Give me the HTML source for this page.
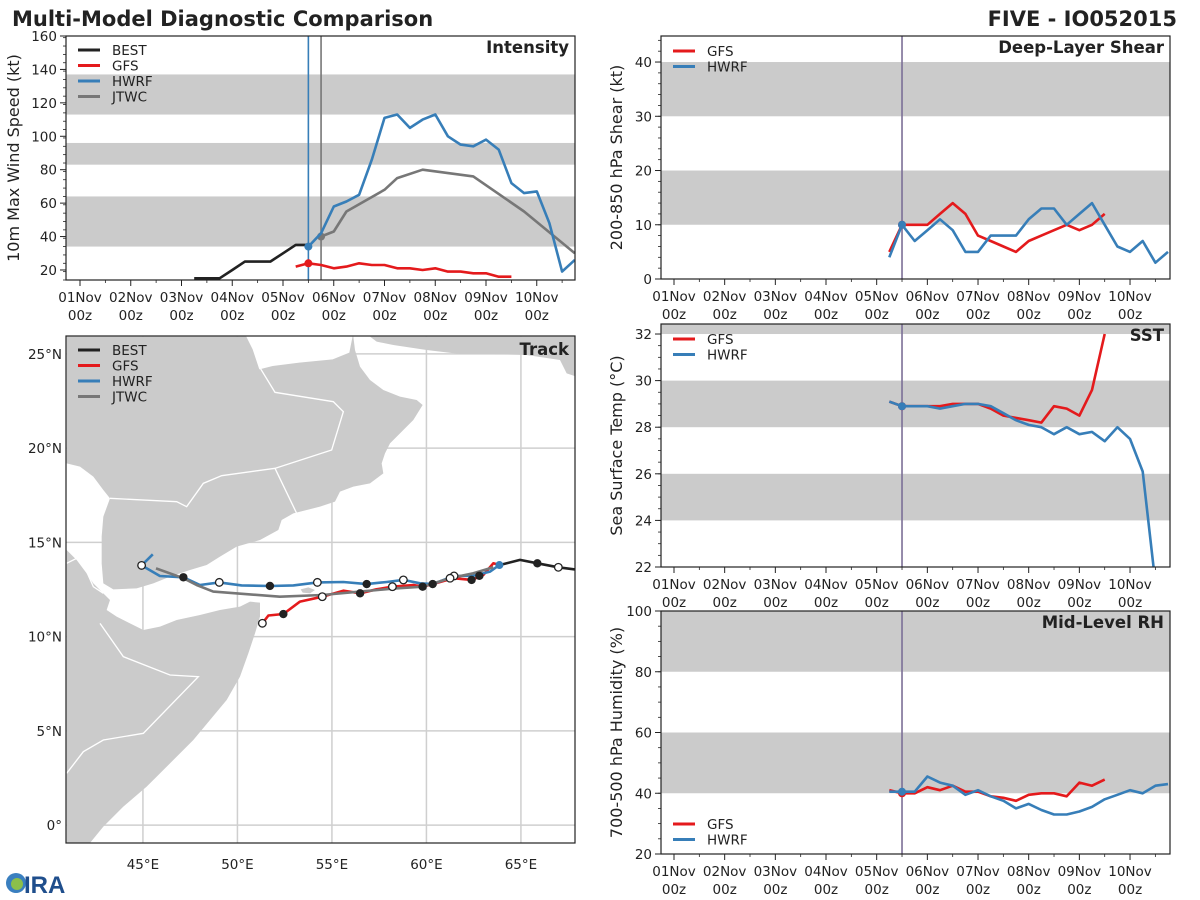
<!DOCTYPE html>
<html><head><meta charset="utf-8"><style>
html,body{margin:0;padding:0;background:#fff;}
svg{display:block;font-family:"DejaVu Sans","Liberation Sans",sans-serif;}
</style></head><body>
<svg id="fig" width="1200" height="900" viewBox="0 0 1200 900" xmlns="http://www.w3.org/2000/svg">
<defs>
<clipPath id="cInt"><rect x="66" y="36" width="509" height="244"/></clipPath>
<clipPath id="cTrk"><rect x="66" y="336" width="509" height="507"/></clipPath>
<clipPath id="cShr"><rect x="661" y="36" width="509" height="243"/></clipPath>
<clipPath id="cSst"><rect x="661" y="324" width="509" height="243"/></clipPath>
<clipPath id="cRh"><rect x="661" y="611" width="509" height="243"/></clipPath>
</defs>
<text x="12" y="26" font-size="21" font-weight="bold" fill="#222">Multi-Model Diagnostic Comparison</text>
<text x="1177" y="26" font-size="21" font-weight="bold" fill="#222" text-anchor="end">FIVE - IO052015</text>

<g id="trackMap" clip-path="url(#cTrk)">
<rect x="66" y="336" width="509" height="507" fill="#fff"/>
<g id="gridTrk"></g>
<g transform="translate(60,330) scale(0.33333)" fill="#cbcbcb" stroke="none">
<polygon points="20,20 880,20 885,60 900,110 930,150 970,180 1020,200 1070,210 1088,225 1060,270 1020,310 990,340 975,370 965,400 970,430 930,460 880,470 840,485 825,515 780,530 700,550 665,570 655,600 600,630 530,650 480,680 440,705 390,720 330,740 280,760 230,775 160,778 130,760 125,700 125,620 130,560 150,505 130,480 100,440 60,410 20,400"/>
<polygon fill="#fff" points="558,18 578,58 598,118 638,108 718,98 818,88 868,68 878,18"/>
<polygon points="930,20 1550,20 1550,140 1520,130 1500,90 1400,75 1300,72 1200,72 1100,60 1000,45 950,35"/>
<polygon points="20,660 50,690 80,730 100,760 130,790 150,810 140,840 170,860 210,880 250,900 300,890 350,870 420,855 480,840 540,830 570,815 600,818 600,860 585,910 565,970 540,1040 500,1110 450,1170 400,1230 330,1300 260,1370 190,1430 130,1490 85,1545 20,1545"/>
<polygon points="722,778 745,772 765,780 750,790 728,788"/>
<g fill="none" stroke="#fff" stroke-width="4">
<polyline points="598,110 645,187 820,215 850,245 815,360 645,415 485,437 430,460 380,530 350,515 150,505"/>
<polyline points="645,415 710,550"/>
<polyline points="20,700 60,680 100,770 130,790"/>
<polyline points="120,880 190,980 330,1035 415,1040 250,1210 130,1230 70,1265 20,1330"/>
</g>
</g>
</g>
<g id="plots"></g>
<g>
<circle cx="16" cy="883" r="10" fill="#3a7fbf"/>
<circle cx="17" cy="884" r="6" fill="#8bbf4a"/>
<text x="24" y="893" font-size="24" font-weight="bold" fill="#1f4e8c" font-family="Liberation Sans, sans-serif">IRA</text>
</g>
</svg>
<script>
const intBestDays=[2.25,2.5,2.75,3.0,3.25,3.5,3.75,4.0,4.25,4.5];
const intBestVals=[15,15,15,20,25,25,25,30,35,35];
const intGfsDays=[4.25,4.5,4.75,5.0,5.25,5.5,5.75,6.0,6.25,6.5,6.75,7.0,7.25,7.5,7.75,8.0,8.25,8.5];
const intGfsVals=[22,24,23,21,22,24,23,23,21,21,20,21,19,19,18,18,16,16];
const intHwrfDays=[4.5,4.75,5.0,5.25,5.5,5.75,6.0,6.25,6.5,6.75,7.0,7.25,7.5,7.75,8.0,8.25,8.5,8.75,9.0,9.25,9.5,9.75];
const intHwrfVals=[34,42,58,61,65,86,111,113,105,110,113,100,95,94,98,92,72,66,67,48,19,26];
const intJtwcDays=[4.75,5.0,5.25,6.0,6.25,6.75,7.75,8.75,9.75];
const intJtwcVals=[40,43,55,68,75,80,76,55,30];
const intTicks=[20,40,60,80,100,120,140,160];

const shrDays=[4.25,4.5,4.75,5.0,5.25,5.5,5.75,6.0,6.25,6.5,6.75,7.0,7.25,7.5,7.75,8.0,8.25,8.5];
const shrGfs=[5,10,10,10,12,14,12,8,7,6,5,7,8,9,10,9,10,12];
const hwrfDays=[4.25,4.5,4.75,5.0,5.25,5.5,5.75,6.0,6.25,6.5,6.75,7.0,7.25,7.5,7.75,8.0,8.25,8.5,8.75,9.0,9.25,9.5,9.75];
const shrHwrf=[4,10,7,9,11,9,5,5,8,8,8,11,13,13,10,12,14,10,6,5,7,3,5];
const shrTicks=[0,10,20,30,40];

const sstGfs=[29.1,28.9,28.9,28.9,28.9,29.0,29.0,29.0,28.8,28.5,28.4,28.3,28.2,28.9,28.8,28.5,29.6,32.0];
const sstHwrfDays=[4.25,4.5,4.75,5.0,5.25,5.5,5.75,6.0,6.25,6.5,6.75,7.0,7.25,7.5,7.75,8.0,8.25,8.5,8.75,9.0,9.25,9.5];
const sstHwrf=[29.1,28.9,28.9,28.9,28.8,28.9,29.0,29.0,28.9,28.6,28.3,28.1,28.0,27.7,28.0,27.7,27.8,27.4,28.0,27.5,26.1,21.3];
const sstTicks=[22,24,26,28,30,32];

const rhGfs=[41,40,40,42,41,42.5,40.5,40.5,39,38.5,37.5,39.5,40,40,39,43.5,42.5,44.5];
const rhHwrf=[40.5,40.5,40.5,45.5,43.5,42.5,39.5,41,39,37.5,35,36.5,34.5,33,33,34,35.5,38,39.5,41,40,42.5,43];
const rhTicks=[20,40,60,80,100];

const dayLabels=["01Nov","02Nov","03Nov","04Nov","05Nov","06Nov","07Nov","08Nov","09Nov","10Nov"];

const trkBestLon=[63.89,64.95,65.87,66.98,67.86,68.6];
const trkBestLat=[13.80,14.07,13.89,13.68,13.57,13.45];
const trkHwrfLon=[63.86,63.37,62.48,61.46,60.33,59.66,58.78,57.90,56.84,55.60,54.23,52.96,51.72,50.22,49.04,48.02,47.14,45.90,44.93,45.52];
const trkHwrfLat=[13.80,13.45,13.23,13.22,12.79,12.83,13.01,12.90,12.79,12.90,12.88,12.72,12.69,12.72,12.88,12.74,13.15,13.22,13.78,14.37];
const trkGfsLon=[63.86,63.54,63.01,62.39,61.42,60.33,59.80,59.31,58.20,57.36,56.49,55.60,54.49,53.31,52.43,51.64,51.32];
const trkGfsLat=[13.80,13.89,13.27,13.01,13.10,12.79,12.65,12.74,12.65,12.51,12.30,12.44,12.12,11.86,11.20,11.12,10.71];
const trkJtwcLon=[63.54,62.48,61.25,59.80,58.25,56.49,54.49,52.25,48.72,47.84,47.14,45.69];
const trkJtwcLat=[13.68,13.36,13.10,12.65,12.55,12.39,12.21,12.12,12.39,12.74,13.10,13.62];
const mkOpenLon=[66.98,61.46,58.78,54.23,49.04,44.93,58.20,54.49,51.32,61.25];
const mkOpenLat=[13.68,13.22,13.01,12.88,12.88,13.78,12.65,12.12,10.71,13.10];
const mkFillLon=[65.87,62.80,56.84,51.72,47.14,62.39,59.80,56.49,52.43,60.33];
const mkFillLat=[13.89,13.23,12.79,12.69,13.15,13.01,12.65,12.30,11.20,12.79];
const lonTicks=[45,50,55,60,65];
const latTicks=[0,5,10,15,20,25];

const NS="http://www.w3.org/2000/svg";
const plots=document.getElementById('plots');
function mk(tag,attrs,parent){const e=document.createElementNS(NS,tag);for(const k in attrs)e.setAttribute(k,attrs[k]);(parent||plots).appendChild(e);return e;}
function pathD(xs,ys,fx,fy){return xs.map((v,i)=>(i?'L':'M')+fx(v).toFixed(1)+','+fy(ys[i]).toFixed(1)).join(' ');}
const C={best:'#222222',gfs:'#e41a1c',hwrf:'#377eb8',jtwc:'#777777'};

function panel(o){
  const g=mk('g',{});
  
  
  const fx=d=>o.x0+d*o.dx;
  const fy=v=>o.top+(o.ymax-v)/(o.ymax-o.ymin)*(o.bottom-o.top);
  o.bands.forEach(b=>{
    const r=mk('rect',{x:o.left,y:fy(Math.min(b[1],o.ymax)),width:o.right-o.left,height:fy(b[0])-fy(Math.min(b[1],o.ymax)),fill:'#cbcbcb'},g);
    
    
  });
  o.ticks.forEach(t=>{
    mk('line',{x1:o.left-6,x2:o.left,y1:fy(t),y2:fy(t),stroke:'#222','stroke-width':1},g);
    const tx=mk('text',{x:o.left-9,y:fy(t)+5,'font-size':13.5,'text-anchor':'end',fill:'#222'},g);
    tx.textContent=t;
    
    
  });
  for(let v=o.ymin;v<=o.ymax;v+=o.minor){mk('line',{x1:o.left-3,x2:o.left,y1:fy(v),y2:fy(v),stroke:'#222','stroke-width':0.8},g);}
  for(let d=0;d<=9.75;d+=0.5){const X=fx(d);if(X<o.left||X>o.right)continue;const maj=Math.abs(d-Math.round(d))<1e-6;mk('line',{x1:X,x2:X,y1:o.bottom,y2:o.bottom+(maj?6:3),stroke:'#222','stroke-width':maj?1:0.8},g);}
  dayLabels.forEach((l,i)=>{
    const t1=mk('text',{x:fx(i),y:o.bottom+22,'font-size':13.5,'text-anchor':'middle',fill:'#222'},g);t1.textContent=l;
    
    
    const t2=mk('text',{x:fx(i),y:o.bottom+40,'font-size':13.5,'text-anchor':'middle',fill:'#222'},g);t2.textContent='00z';
    
    
  });
  const yt=mk('text',{x:0,y:0,'font-size':16,'text-anchor':'middle',fill:'#222',transform:`translate(${o.ytx},${(o.top+o.bottom)/2}) rotate(-90)`},g);
  yt.textContent=o.ytitle;
  
  
  const cg=mk('g',{'clip-path':`url(#${o.clip})`},g);
  o.vlines.forEach(v=>{mk('line',{x1:fx(v[0]),x2:fx(v[0]),y1:o.top,y2:o.bottom,stroke:v[1],'stroke-width':1.6},cg);});
  o.series.forEach(s=>{
    const p=mk('path',{d:pathD(s.d,s.v,fx,fy),fill:'none',stroke:s.c,'stroke-width':2.6,'stroke-linejoin':'round'},cg);
    
    
    if(s.dot!==undefined){const i=s.d.indexOf(s.dot);const c=mk('circle',{cx:fx(s.d[i]),cy:fy(s.v[i]),r:4,fill:s.c},cg);
      
      }
  });
  mk('rect',{x:o.left,y:o.top,width:o.right-o.left,height:o.bottom-o.top,fill:'none',stroke:'#222','stroke-width':1.2},g);
  const tt=mk('text',{x:o.right-6,y:o.top+17,'font-size':16.5,'font-weight':'bold','text-anchor':'end',fill:'#222'},g);
  tt.textContent=o.title;
  
  
  legend(g,o.left,o.legY,o.leg);
}
function legend(g,left,y0,items){
  items.forEach((it,i)=>{
    const y=y0+i*15.5;
    const l=mk('line',{x1:left+12,x2:left+34,y1:y,y2:y,stroke:C[it.toLowerCase()],'stroke-width':3},g);
    
    
    const t=mk('text',{x:left+46,y:y+5,'font-size':13.5,fill:'#222'},g);t.textContent=it;
    
    
  });
}

panel({name:'intensity',left:66,right:575,top:36,bottom:280,x0:80,dx:50.75,ymin:14,ymax:160,minor:5,ticks:intTicks,
  bands:[[34,64],[83,96],[113,137]],ytitle:'10m Max Wind Speed (kt)',ytx:19,clip:'cInt',title:'Intensity',
  vlines:[[4.5,C.hwrf],[4.75,C.jtwc]],legY:50,leg:['BEST','GFS','HWRF','JTWC'],
  series:[{n:'best',d:intBestDays,v:intBestVals,c:C.best},{n:'jtwc',d:intJtwcDays,v:intJtwcVals,c:C.jtwc,dot:4.75},
  {n:'gfs',d:intGfsDays,v:intGfsVals,c:C.gfs,dot:4.5},{n:'hwrf',d:intHwrfDays,v:intHwrfVals,c:C.hwrf,dot:4.5}]});

const vMix='#7b6f96';
panel({name:'shear',left:661,right:1170,top:36,bottom:279,x0:674,dx:50.67,ymin:0,ymax:44.8,minor:2,ticks:shrTicks,
  bands:[[10,20],[30,40]],ytitle:'200-850 hPa Shear (kt)',ytx:622,clip:'cShr',title:'Deep-Layer Shear',
  vlines:[[4.5,vMix]],legY:51,leg:['GFS','HWRF'],
  series:[{n:'gfs',d:shrDays,v:shrGfs,c:C.gfs,dot:4.5},{n:'hwrf',d:hwrfDays,v:shrHwrf,c:C.hwrf,dot:4.5}]});
panel({name:'sst',left:661,right:1170,top:324,bottom:567,x0:674,dx:50.67,ymin:22,ymax:32.43,minor:0.5,ticks:sstTicks,
  bands:[[24,26],[28,30],[32,33]],ytitle:'Sea Surface Temp (°C)',ytx:622,clip:'cSst',title:'SST',
  vlines:[[4.5,vMix]],legY:339,leg:['GFS','HWRF'],
  series:[{n:'gfs',d:shrDays,v:sstGfs,c:C.gfs,dot:4.5},{n:'hwrf',d:sstHwrfDays,v:sstHwrf,c:C.hwrf,dot:4.5}]});
panel({name:'rh',left:661,right:1170,top:611,bottom:854,x0:674,dx:50.67,ymin:20,ymax:100,minor:5,ticks:rhTicks,
  bands:[[40,60],[80,100]],ytitle:'700-500 hPa Humidity (%)',ytx:622,clip:'cRh',title:'Mid-Level RH',
  vlines:[[4.5,vMix]],legY:824,leg:['GFS','HWRF'],
  series:[{n:'gfs',d:shrDays,v:rhGfs,c:C.gfs,dot:4.5},{n:'hwrf',d:hwrfDays,v:rhHwrf,c:C.hwrf,dot:4.5}]});

(function(){
  const L=66,R=575,T=336,B=843;
  const lx=lon=>L+(lon-40.93)*18.9;
  const ly=lat=>T+(25.95-lat)*18.85;
  const grid=document.getElementById('gridTrk');
  lonTicks.forEach(v=>{mk('line',{x1:lx(v),x2:lx(v),y1:T,y2:B,stroke:'#cfcfcf','stroke-width':1.5},grid);});
  latTicks.forEach(v=>{mk('line',{x1:L,x2:R,y1:ly(v),y2:ly(v),stroke:'#cfcfcf','stroke-width':1.5},grid);});
  const map=document.getElementById('trackMap');
  const tg=mk('g',{},map);
  const tracks=[['gfs',trkGfsLon,trkGfsLat],['hwrf',trkHwrfLon,trkHwrfLat],['jtwc',trkJtwcLon,trkJtwcLat],['best',trkBestLon,trkBestLat]];
  tracks.forEach(t=>{
    const p=mk('path',{d:pathD(t[1],t[2],lx,ly),fill:'none',stroke:C[t[0]],'stroke-width':2.6,'stroke-linejoin':'round'},tg);
    
    
  });
  mkFillLon.forEach((v,i)=>{const c=mk('circle',{cx:lx(v),cy:ly(mkFillLat[i]),r:4.2,fill:'#222'},tg);
    
    });
  mkOpenLon.forEach((v,i)=>{const c=mk('circle',{cx:lx(v),cy:ly(mkOpenLat[i]),r:3.8,fill:'#fff',stroke:'#222','stroke-width':1.3},tg);
    
    });
  const ic=mk('circle',{cx:lx(trkHwrfLon[0]),cy:ly(trkHwrfLat[0]),r:4,fill:C.hwrf},tg);
  
  
  const g=mk('g',{});
  
  
  mk('rect',{x:L,y:T,width:R-L,height:B-T,fill:'none',stroke:'#222','stroke-width':1.2},g);
  lonTicks.forEach(v=>{const t=mk('text',{x:lx(v),y:B+26,'font-size':13.5,'text-anchor':'middle',fill:'#222'},g);t.textContent=v+'°E';
    
    });
  latTicks.forEach(v=>{const t=mk('text',{x:L-4,y:ly(v)+5,'font-size':13.5,'text-anchor':'end',fill:'#222'},g);t.textContent=v+(v?'°N':'°');
    
    });
  const tt=mk('text',{x:R-6,y:T+19,'font-size':16.5,'font-weight':'bold','text-anchor':'end',fill:'#222'},g);tt.textContent='Track';
  
  
  legend(g,L,350,['BEST','GFS','HWRF','JTWC']);
})();
</script>
</body></html>
